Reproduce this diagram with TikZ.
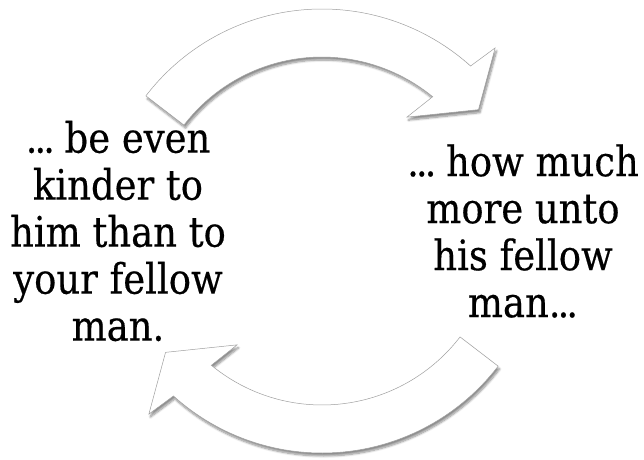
\documentclass[tikz,border=0pt]{standalone}
\usepackage{fontspec}
\setmainfont[FakeStretch=0.88,FakeBold=0.4]{DejaVu Serif}
\usetikzlibrary{shadows.blur}
\newcommand{\tightdots}{.\kern-3pt.\kern-3pt.}
\tikzset{
  bendarrow/.style={fill=white, draw=gray!75, line width=0.5pt,
    blur shadow={shadow xshift=1.5pt, shadow yshift=-3pt, shadow blur steps=8, shadow opacity=45}},
  saying/.style={align=center, inner sep=0pt, font=\fontsize{42}{47}\selectfont}
}
\begin{document}
\begin{tikzpicture}[x=1pt,y=1pt]
\useasboundingbox (0,0) rectangle (644,459);
\coordinate (mid) at (322,228);
% upper arrow, left to right
\draw[bendarrow, shift={(mid)}] (142.5:222pt) arc[start angle=142.5, end angle=48, radius=222pt]
  -- (46.6:252pt) -- (37.8:198pt) -- (53.3:142pt) -- (50.5:174pt)
  arc[start angle=50.5, end angle=142.5, radius=174pt] -- cycle;
% lower arrow, right to left
\draw[bendarrow, shift={(mid)}] (322.5:222pt) arc[start angle=322.5, end angle=228, radius=222pt]
  -- (226.6:252pt) -- (217.8:198pt) -- (233.3:142pt) -- (230.5:174pt)
  arc[start angle=230.5, end angle=322.5, radius=174pt] -- cycle;
\node[saying] (kinder) at (118,228) {\tightdots\kern-6pt{} be even\\kinder to\\him than to\\your fellow\\man.};
\node[saying] (unto) at (523,228) {\tightdots\kern-6pt{} how much\\more unto\\his fellow\\man\tightdots};
\end{tikzpicture}
\end{document}
